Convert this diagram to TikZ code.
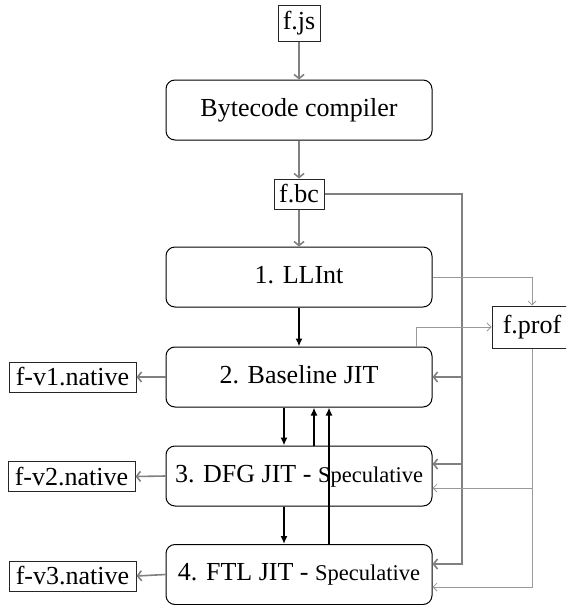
\documentclass[tikz,border=0pt]{standalone}
\usepackage{fontspec}
\setmainfont{Liberation Serif}
\usetikzlibrary{arrows.meta}
\newcommand\specfont{\fontsize{22.5}{26}\selectfont}
\begin{document}
\begin{tikzpicture}[x=1pt,y=-1pt,
  font=\fontsize{26}{30}\selectfont,
  proc/.style={draw=black,line width=1pt,rounded corners=9pt,minimum width=266pt,minimum height=60pt,inner sep=0pt,text height=18pt,text depth=6pt},
  file/.style={draw=black!85,line width=1pt,inner sep=0pt},
  flow/.style={draw=black!50,line width=1.6pt,-{Straight Barb[length=4pt,width=10pt]}},
  prof/.style={draw=black!40,line width=0.8pt,-{Straight Barb[length=4pt,width=8pt]}},
  tier/.style={draw=black,line width=1.6pt,-{Latex[length=8pt,width=7pt]}}
]
\clip (0,0) rectangle (566,605);
\useasboundingbox (0,0) rectangle (566,605);
% nodes
\node[file,minimum width=42pt,minimum height=36pt] (fjs) at (299,23) {f.js};
\node[proc] (bc) at (299,110) {Bytecode compiler};
\node[file,minimum width=50pt,minimum height=30pt] (fbc) at (299,194) {f.bc};
\node[proc] (llint) at (299,277) {1. LLInt};
\node[proc] (base) at (299,377) {2. Baseline JIT};
\node[proc] (dfg) at (299,476) {3. DFG JIT - {\specfont Speculative}};
\node[proc] (ftl) at (299,574.5) {4. FTL JIT - {\specfont Speculative}};
\node[file,minimum width=80pt,minimum height=42pt] (fprof) at (532,327) {f.prof};
\node[file,minimum width=127pt,minimum height=30pt] (fv1) at (72.5,377) {f-v1.native};
\node[file,minimum width=127pt,minimum height=30pt] (fv2) at (71.5,476.5) {f-v2.native};
\node[file,minimum width=127pt,minimum height=30pt] (fv3) at (72.5,576) {f-v3.native};
% helper coordinates
\coordinate (jt) at (462,194);
\coordinate (jd) at (462,464);
\coordinate (jb) at (462,564);
\coordinate (pd) at (532,488);
\coordinate (pb) at (532,587);
% compile chain
\draw[flow] (fjs.south) -- (bc.north);
\draw[flow] (bc.south) -- (fbc.north);
\draw[flow] (fbc.south) -- (llint.north);
% bytecode bus
\draw[flow] (fbc.east) -- (jt) -- (jb) -- (jb -| ftl.east);
\draw[flow] (base.east -| jt) -- (base.east);
\draw[flow] (jd) -- (jd -| dfg.east);
% profiling
\draw[prof] (llint.east) -| (fprof.north);
\draw[prof] ([xshift=117pt]base.north) |- (fprof.west);
\draw[prof] (fprof.south) -- (pb) -- (pb -| ftl.east);
\draw[prof] (pd) -- (pd -| dfg.east);
% tiers
\draw[tier] (llint.south) -- (base.north);
\draw[tier] ([xshift=-15pt]base.south) -- ([xshift=-15pt]dfg.north);
\draw[tier] ([xshift=15pt]dfg.north) -- ([xshift=15pt]base.south);
\draw[tier] ([xshift=-15pt]dfg.south) -- ([xshift=-15pt]ftl.north);
\draw[tier] ([xshift=30pt]ftl.north) -- ([xshift=30pt]base.south);
% native outputs
\draw[flow] (base.west) -- (fv1.east);
\draw[flow] (dfg.west) -- (fv2.east);
\draw[flow] (ftl.west) -- (fv3.east);
\end{tikzpicture}
\end{document}
